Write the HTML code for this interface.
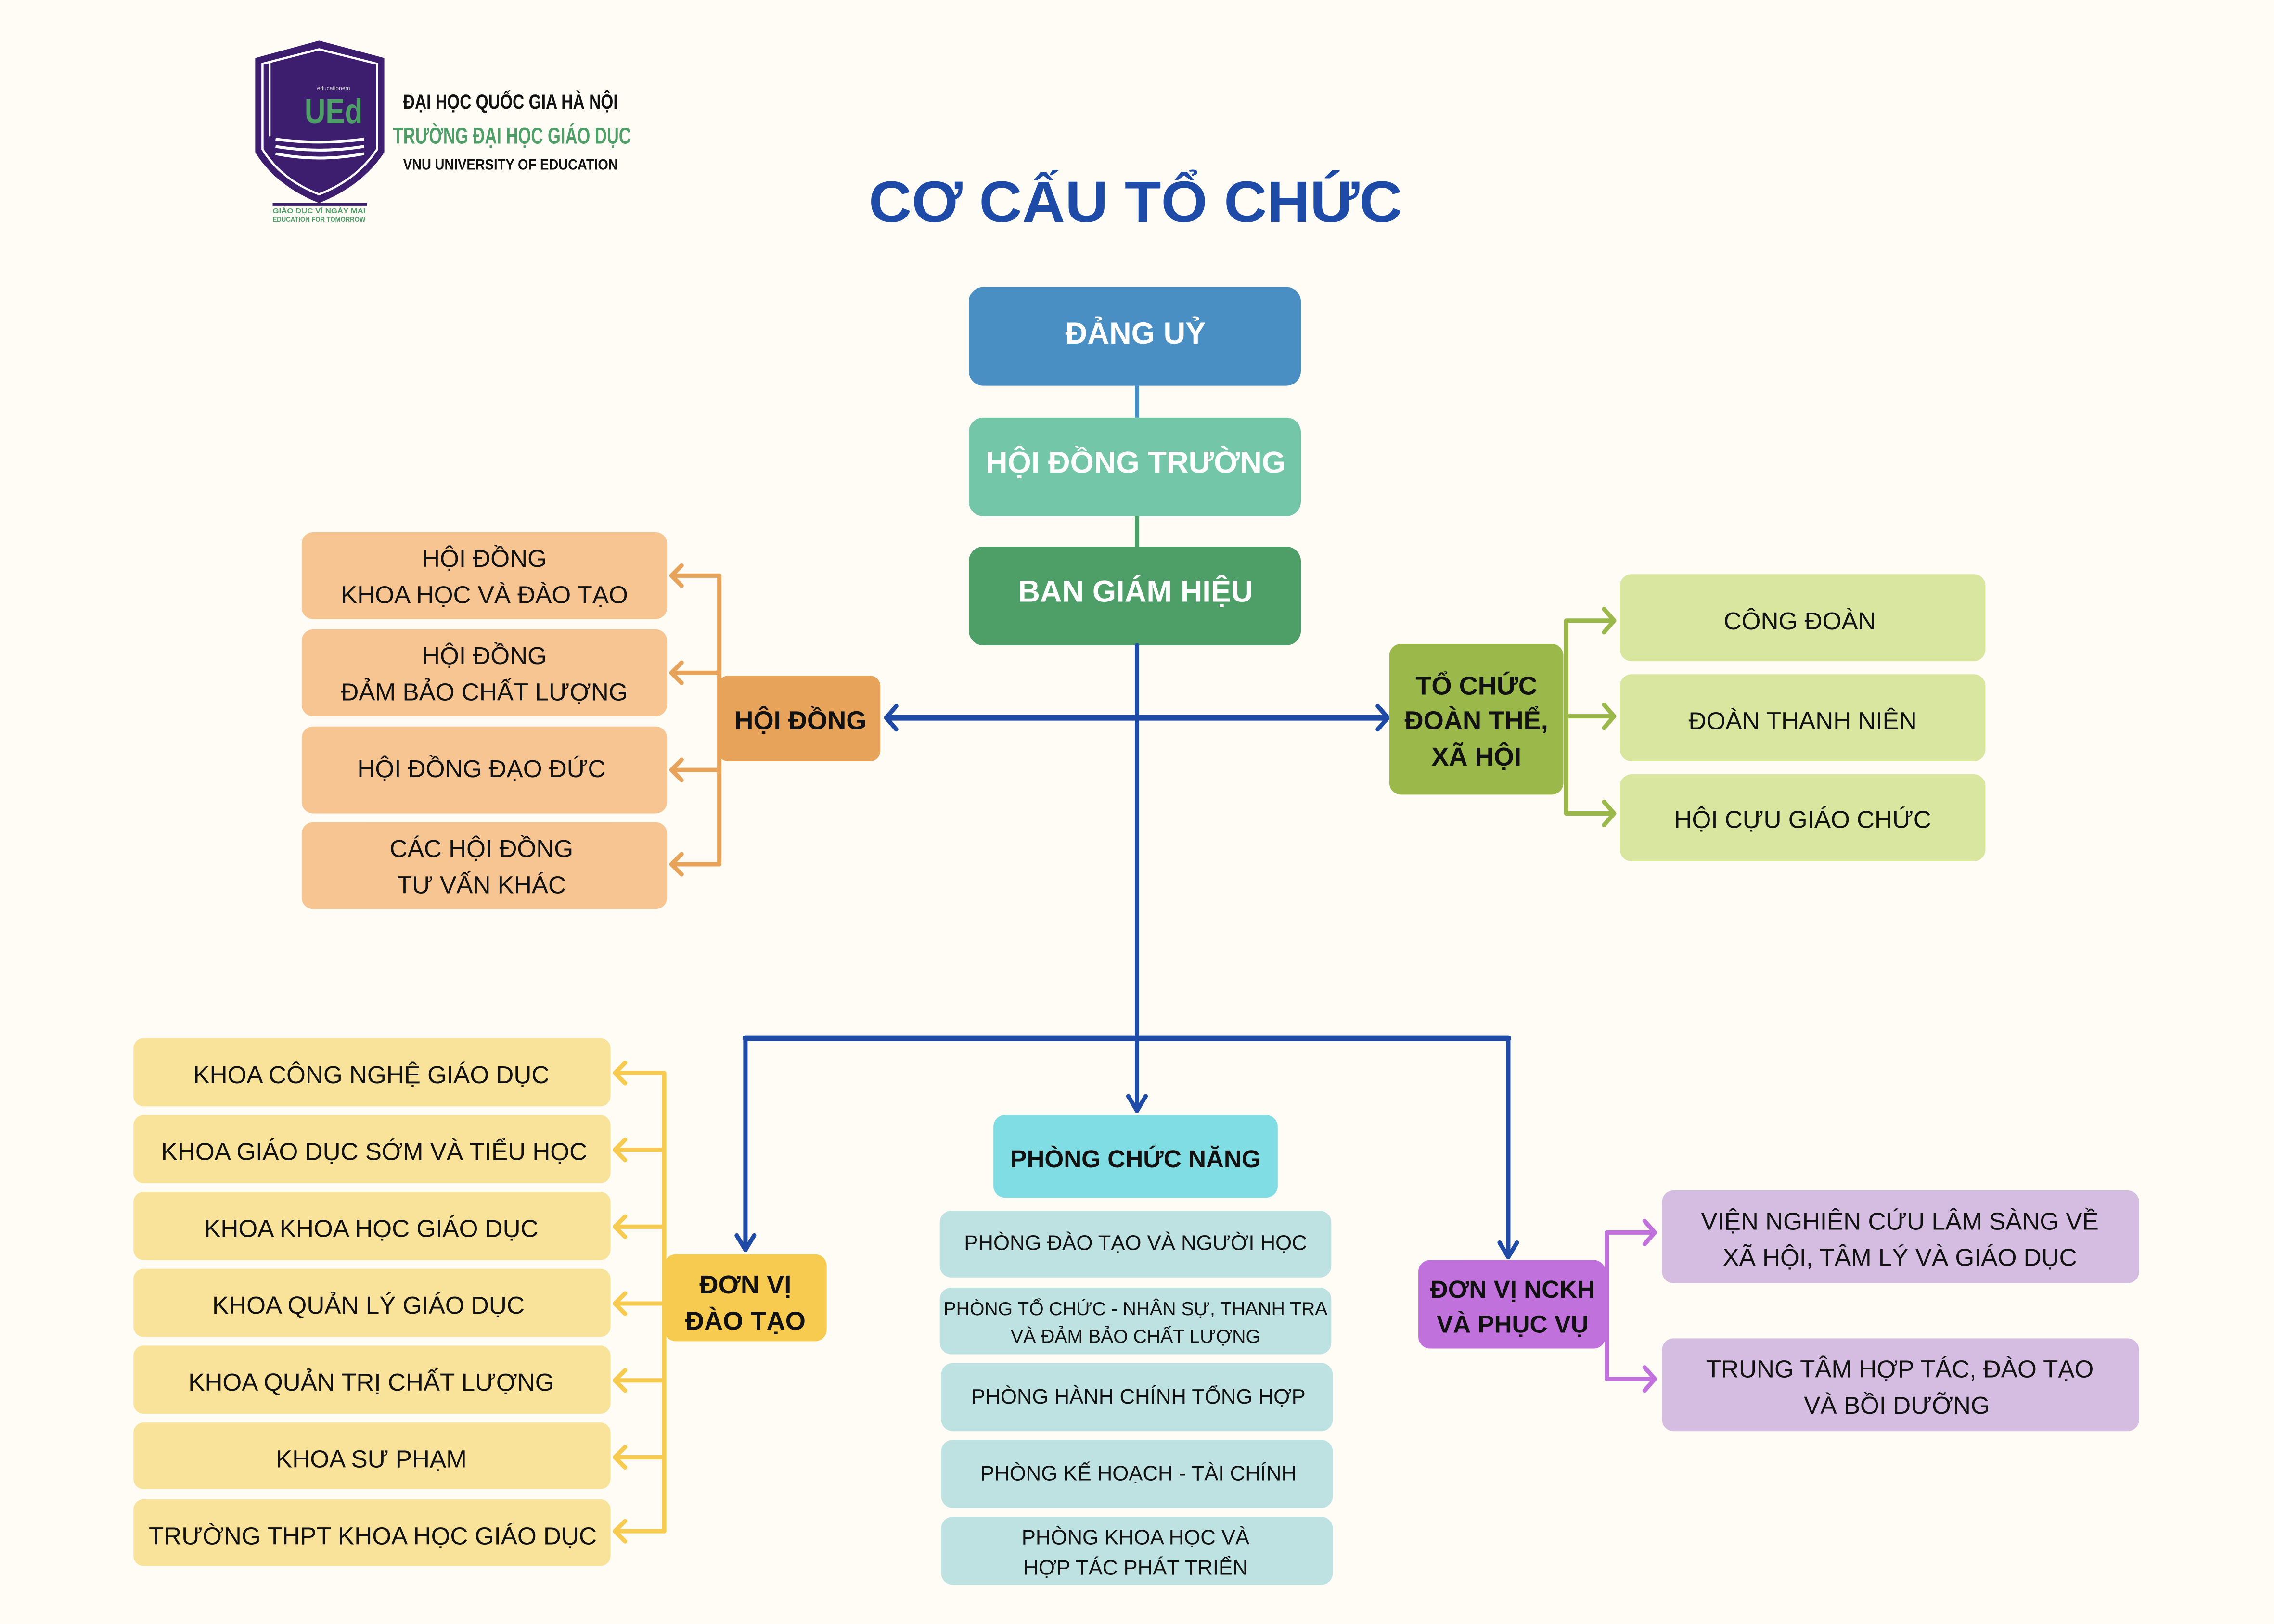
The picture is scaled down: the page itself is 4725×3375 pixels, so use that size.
<!DOCTYPE html>
<html><head><meta charset="utf-8"><style>
html,body{margin:0;padding:0;background:#fefcf5;}
svg{display:block;}
text{font-family:"Liberation Sans","DejaVu Sans",sans-serif;}
.r{font-size:17px;fill:#111;text-anchor:middle;}
.s{font-size:14.5px;fill:#111;text-anchor:middle;}
.b{font-size:18px;font-weight:bold;fill:#111;text-anchor:middle;}
.w{font-size:21px;font-weight:bold;fill:#fff;text-anchor:middle;}
</style></head><body>
<svg width="4725" height="3375" viewBox="0 0 1568 1120" preserveAspectRatio="none" xmlns="http://www.w3.org/2000/svg">
<rect width="1568" height="1120" fill="#fefcf5"/>
<!-- logo -->
<path d="M176 40 L220 28 L265 40 L265 105 Q250 128 220 140 Q190 128 176 105 Z" fill="#3d1d6e"/>
<path d="M181 44 L220 34 L260 44 L260 103 Q246 124 220 134 Q194 124 181 103 Z" fill="none" stroke="#fff" stroke-width="1.5"/>
<line x1="186" y1="42" x2="186" y2="94" stroke="#fff" stroke-width="1.2"/>
<text x="230" y="85" font-size="24" font-weight="bold" fill="#4e9e68" text-anchor="middle" textLength="40" lengthAdjust="spacingAndGlyphs">UEd</text>
<text x="230" y="62" font-size="4" fill="#ccc" text-anchor="middle">educationem</text>
<path d="M190 96 Q220 100 251 96 M190 101 Q220 106 251 101 M190 106 Q220 112 251 106" stroke="#fff" stroke-width="2" fill="none"/>
<line x1="188" y1="141" x2="253" y2="141" stroke="#3d1d6e" stroke-width="2"/>
<text x="220" y="147" font-size="5" font-weight="bold" fill="#4e9e68" text-anchor="middle" textLength="64" lengthAdjust="spacingAndGlyphs">GIÁO DỤC VÌ NGÀY MAI</text>
<text x="220" y="153" font-size="5" font-weight="bold" fill="#4e9e68" text-anchor="middle" textLength="64" lengthAdjust="spacingAndGlyphs">EDUCATION FOR TOMORROW</text>
<text x="278" y="75" font-size="14" font-weight="bold" fill="#111" textLength="148" lengthAdjust="spacingAndGlyphs">ĐẠI HỌC QUỐC GIA HÀ NỘI</text>
<text x="271" y="99" font-size="16" font-weight="bold" fill="#4e9e68" textLength="164" lengthAdjust="spacingAndGlyphs">TRƯỜNG ĐẠI HỌC GIÁO DỤC</text>
<text x="278" y="117" font-size="10.5" font-weight="bold" fill="#111" textLength="148" lengthAdjust="spacingAndGlyphs">VNU UNIVERSITY OF EDUCATION</text>
<!-- title -->
<text x="783" y="153" font-size="40" font-weight="bold" fill="#1e4aa8" text-anchor="middle" textLength="368" lengthAdjust="spacingAndGlyphs">CƠ CẤU TỔ CHỨC</text>
<!-- top chain -->
<line x1="784" y1="266" x2="784" y2="288" stroke="#4a8fc4" stroke-width="3"/>
<line x1="784" y1="356" x2="784" y2="377" stroke="#4e9e68" stroke-width="3"/>
<rect x="668" y="198" width="229" height="68" rx="10" fill="#4a8fc4"/>
<text class="w" x="783" y="237">ĐẢNG UỶ</text>
<rect x="668" y="288" width="229" height="68" rx="10" fill="#74c6a8"/>
<text class="w" x="783" y="326">HỘI ĐỒNG TRƯỜNG</text>
<rect x="668" y="377" width="229" height="68" rx="10" fill="#4e9e68"/>
<text class="w" x="783" y="415">BAN GIÁM HIỆU</text>
<!-- blue connectors -->
<g stroke="#1f4aa5" fill="none" stroke-linecap="round" stroke-linejoin="round">
<line x1="784" y1="445" x2="784" y2="766" stroke-width="3"/>
<line x1="612" y1="495" x2="956" y2="495" stroke-width="4"/>
<polyline points="618,487 611,495 618,503" stroke-width="3"/>
<polyline points="950,487 957,495 950,503" stroke-width="3"/>
<line x1="514" y1="716" x2="1040" y2="716" stroke-width="4"/>
<line x1="514" y1="716" x2="514" y2="862" stroke-width="3"/>
<line x1="1040" y1="716" x2="1040" y2="867" stroke-width="3"/>
<polyline points="778,756 784,766 790,756" stroke-width="3"/>
<polyline points="508,852 514,862 520,852" stroke-width="3"/>
<polyline points="1034,857 1040,867 1046,857" stroke-width="3"/>
</g>
<!-- Hoi dong group -->
<g stroke="#e8a35a" fill="none" stroke-width="3" stroke-linecap="round" stroke-linejoin="round">
<line x1="496" y1="397" x2="496" y2="596"/>
<line x1="464" y1="397" x2="496" y2="397"/><polyline points="470,390 463,397 470,404"/>
<line x1="464" y1="464" x2="496" y2="464"/><polyline points="470,457 463,464 470,471"/>
<line x1="464" y1="531" x2="496" y2="531"/><polyline points="470,524 463,531 470,538"/>
<line x1="464" y1="596" x2="496" y2="596"/><polyline points="470,589 463,596 470,603"/>
</g>
<rect x="495" y="466" width="112" height="59" rx="7" fill="#e8a35a"/>
<text class="b" x="552" y="503">HỘI ĐỒNG</text>
<g fill="#f6c591">
<rect x="208" y="367" width="252" height="60" rx="8"/>
<rect x="208" y="434" width="252" height="60" rx="8"/>
<rect x="208" y="501" width="252" height="60" rx="8"/>
<rect x="208" y="567" width="252" height="60" rx="8"/>
</g>
<text class="r" x="334" y="391">HỘI ĐỒNG</text><text class="r" x="334" y="416">KHOA HỌC VÀ ĐÀO TẠO</text>
<text class="r" x="334" y="458">HỘI ĐỒNG</text><text class="r" x="334" y="483">ĐẢM BẢO CHẤT LƯỢNG</text>
<text class="r" x="332" y="536">HỘI ĐỒNG ĐẠO ĐỨC</text>
<text class="r" x="332" y="591">CÁC HỘI ĐỒNG</text><text class="r" x="332" y="616">TƯ VẤN KHÁC</text>
<!-- To chuc group -->
<g stroke="#9bb84a" fill="none" stroke-width="3" stroke-linecap="round" stroke-linejoin="round">
<line x1="1080" y1="428" x2="1080" y2="561"/>
<line x1="1080" y1="428" x2="1113" y2="428"/><polyline points="1106,420 1113,428 1106,436"/>
<line x1="1080" y1="494" x2="1113" y2="494"/><polyline points="1106,486 1113,494 1106,502"/>
<line x1="1080" y1="561" x2="1113" y2="561"/><polyline points="1106,553 1113,561 1106,569"/>
</g>
<rect x="958" y="444" width="120" height="104" rx="8" fill="#9bb84a"/>
<text class="b" x="1018" y="479">TỔ CHỨC</text><text class="b" x="1018" y="503">ĐOÀN THỂ,</text><text class="b" x="1018" y="528">XÃ HỘI</text>
<g fill="#d8e6a0">
<rect x="1117" y="396" width="252" height="60" rx="8"/>
<rect x="1117" y="465" width="252" height="60" rx="8"/>
<rect x="1117" y="534" width="252" height="60" rx="8"/>
</g>
<text class="r" x="1241" y="434">CÔNG ĐOÀN</text>
<text class="r" x="1243" y="503">ĐOÀN THANH NIÊN</text>
<text class="r" x="1243" y="571">HỘI CỰU GIÁO CHỨC</text>
<!-- Don vi dao tao -->
<g stroke="#f6cb50" fill="none" stroke-width="3" stroke-linecap="round" stroke-linejoin="round">
<line x1="458" y1="740" x2="458" y2="1056"/>
<line x1="424" y1="740" x2="458" y2="740"/><polyline points="431,733 424,740 431,747"/>
<line x1="424" y1="793" x2="458" y2="793"/><polyline points="431,786 424,793 431,800"/>
<line x1="424" y1="846" x2="458" y2="846"/><polyline points="431,839 424,846 431,853"/>
<line x1="424" y1="899" x2="458" y2="899"/><polyline points="431,892 424,899 431,906"/>
<line x1="424" y1="952" x2="458" y2="952"/><polyline points="431,945 424,952 431,959"/>
<line x1="424" y1="1005" x2="458" y2="1005"/><polyline points="431,998 424,1005 431,1012"/>
<line x1="424" y1="1056" x2="458" y2="1056"/><polyline points="431,1049 424,1056 431,1063"/>
</g>
<rect x="458" y="865" width="112" height="60" rx="8" fill="#f6cb50"/>
<text class="b" x="514" y="892">ĐƠN VỊ</text><text class="b" x="514" y="917">ĐÀO TẠO</text>
<g fill="#f9e29a">
<rect x="92" y="716" width="329" height="47" rx="7"/>
<rect x="92" y="769" width="329" height="47" rx="7"/>
<rect x="92" y="822" width="329" height="47" rx="7"/>
<rect x="92" y="875" width="329" height="47" rx="7"/>
<rect x="92" y="928" width="329" height="47" rx="7"/>
<rect x="92" y="981" width="329" height="46" rx="7"/>
<rect x="92" y="1034" width="329" height="46" rx="7"/>
</g>
<text class="r" x="256" y="747">KHOA CÔNG NGHỆ GIÁO DỤC</text>
<text class="r" x="258" y="800">KHOA GIÁO DỤC SỚM VÀ TIỂU HỌC</text>
<text class="r" x="256" y="853">KHOA KHOA HỌC GIÁO DỤC</text>
<text class="r" x="254" y="906">KHOA QUẢN LÝ GIÁO DỤC</text>
<text class="r" x="256" y="959">KHOA QUẢN TRỊ CHẤT LƯỢNG</text>
<text class="r" x="256" y="1012">KHOA SƯ PHẠM</text>
<text class="r" x="257" y="1065">TRƯỜNG THPT KHOA HỌC GIÁO DỤC</text>
<!-- Phong chuc nang -->
<rect x="685" y="769" width="196" height="57" rx="8" fill="#80dde4"/>
<text x="783" y="805" font-size="17" font-weight="bold" fill="#111" text-anchor="middle">PHÒNG CHỨC NĂNG</text>
<g fill="#bde2e1">
<rect x="648" y="835" width="270" height="46" rx="8"/>
<rect x="648" y="888" width="270" height="46" rx="8"/>
<rect x="649" y="940" width="270" height="47" rx="8"/>
<rect x="649" y="993" width="270" height="47" rx="8"/>
<rect x="649" y="1046" width="270" height="47" rx="8"/>
</g>
<text class="s" x="783" y="862">PHÒNG ĐÀO TẠO VÀ NGƯỜI HỌC</text>
<text x="783" y="907" font-size="13" fill="#111" text-anchor="middle">PHÒNG TỔ CHỨC - NHÂN SỰ,  THANH TRA</text>
<text x="783" y="926" font-size="13" fill="#111" text-anchor="middle">VÀ ĐẢM BẢO CHẤT LƯỢNG</text>
<text class="s" x="785" y="968">PHÒNG HÀNH CHÍNH TỔNG HỢP</text>
<text class="s" x="785" y="1021">PHÒNG KẾ HOẠCH - TÀI CHÍNH</text>
<text class="s" x="783" y="1065">PHÒNG KHOA HỌC VÀ</text>
<text class="s" x="783" y="1086">HỢP TÁC PHÁT TRIỂN</text>
<!-- NCKH -->
<g stroke="#c071dc" fill="none" stroke-width="3" stroke-linecap="round" stroke-linejoin="round">
<line x1="1108" y1="850" x2="1108" y2="951"/>
<line x1="1108" y1="850" x2="1141" y2="850"/><polyline points="1134,842 1141,850 1134,858"/>
<line x1="1108" y1="951" x2="1141" y2="951"/><polyline points="1134,943 1141,951 1134,959"/>
</g>
<rect x="978" y="869" width="129" height="61" rx="8" fill="#c071dc"/>
<text x="1043" y="895" font-size="17" font-weight="bold" fill="#111" text-anchor="middle">ĐƠN VỊ NCKH</text>
<text x="1043" y="919" font-size="17" font-weight="bold" fill="#111" text-anchor="middle">VÀ PHỤC VỤ</text>
<g fill="#d4bde0">
<rect x="1146" y="821" width="329" height="64" rx="8"/>
<rect x="1146" y="923" width="329" height="64" rx="8"/>
</g>
<text class="r" x="1310" y="848">VIỆN NGHIÊN CỨU LÂM SÀNG VỀ</text>
<text class="r" x="1310" y="873">XÃ HỘI, TÂM LÝ VÀ GIÁO DỤC</text>
<text class="r" x="1310" y="950">TRUNG TÂM HỢP TÁC, ĐÀO TẠO</text>
<text class="r" x="1308" y="975">VÀ BỒI DƯỠNG</text>
</svg>
</body></html>
